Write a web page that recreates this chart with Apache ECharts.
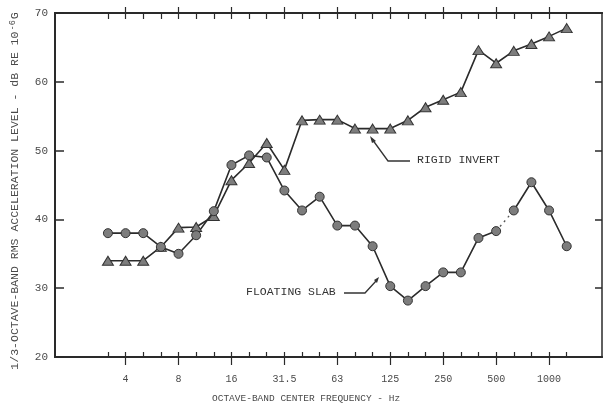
<!DOCTYPE html>
<html><head><meta charset="utf-8">
<script src="https://cdn.jsdelivr.net/npm/echarts@6/dist/echarts.min.js"></script>
<style>html,body{margin:0;padding:0;background:#fff}#c{width:604px;height:410px}</style>
</head><body><div id="c"></div>
<script>
// 1/3-octave band centre frequencies (Hz)
const bands = ['3.15','4','5','6.3','8','10','12.5','16','20','25','31.5','40','50','63','80','100','125','160','200','250','315','400','500','630','800','1000','1250'];
const padLeft = ['1.6','2','2.5'];
const padRight = ['1600','2000'];
const octaveLabels = ['4','8','16','31.5','63','125','250','500','1000'];
// dB re 1e-6 g
const floatingSlab = [38,38,38,36,35,37.7,41.2,47.9,49.3,49,44.2,41.3,43.3,39.1,39.1,36.1,30.3,28.2,30.3,32.3,32.3,37.3,38.3,41.3,45.4,41.3,36.1];
const rigidInvert  = [34,34,34,36,38.8,38.9,40.5,45.7,48.2,51.1,47.2,54.4,54.5,54.5,53.2,53.2,53.2,54.4,56.3,57.4,58.5,64.6,62.7,64.5,65.5,66.6,67.8];
const yMin = 20, yMax = 70, yStep = 10;
const dottedFrom = '500', dottedTo = '630';

const cats = padLeft.concat(bands, padRight);
const pad = v => padLeft.map(() => null).concat(v, padRight.map(() => null));
const iA = bands.indexOf(dottedFrom), iB = bands.indexOf(dottedTo);
const floatA = floatingSlab.map((v, i) => i <= iA ? v : null);
const floatB = floatingSlab.map((v, i) => i >= iB ? v : null);
const floatGap = floatingSlab.map((v, i) => (i === iA || i === iB) ? v : null);

const first = padLeft.length, last = padLeft.length + bands.length - 1;
const isBand = idx => idx >= first && idx <= last;
const isOct = idx => octaveLabels.indexOf(cats[idx]) >= 0;

const FONT = "'Liberation Mono','DejaVu Sans Mono',monospace";
const TXT = '#4a4a4a';
const AX = '#2a2a2a';

const baseX = {
  type: 'category', data: cats, boundaryGap: false, gridIndex: 0,
  axisLine: { show: true, lineStyle: { color: AX, width: 2 } },
  splitLine: { show: false }
};

const chart = echarts.init(document.getElementById('c'), null, { renderer: 'canvas' });
chart.setOption({
  animation: false,
  backgroundColor: '#fff',
  grid: { left: 51, right: 2, top: 13, bottom: 53 },
  xAxis: [
    Object.assign({}, baseX, { position: 'bottom',
      axisTick: { show: true, inside: true, length: 5, interval: (i) => isBand(i), lineStyle: { color: AX, width: 1.2 } },
      axisLabel: { show: false } }),
    Object.assign({}, baseX, { position: 'bottom',
      axisTick: { show: true, inside: false, length: 8, interval: (i) => isOct(i), lineStyle: { color: AX, width: 1.2 } },
      axisLabel: { show: true, interval: (i) => isOct(i), margin: 17, color: TXT, fontFamily: FONT, fontSize: 10 } }),
    Object.assign({}, baseX, { position: 'top',
      axisTick: { show: true, inside: true, length: 6, interval: (i) => isBand(i), lineStyle: { color: AX, width: 1.2 } },
      axisLabel: { show: false } }),
    Object.assign({}, baseX, { position: 'top',
      axisTick: { show: true, inside: false, length: 6, interval: (i) => isOct(i), lineStyle: { color: AX, width: 1.2 } },
      axisLabel: { show: false } })
  ],
  yAxis: [
    { type: 'value', position: 'left', min: yMin, max: yMax, interval: yStep,
      axisLine: { show: true, lineStyle: { color: AX, width: 2 } },
      axisTick: { show: true, inside: true, length: 9, lineStyle: { color: AX, width: 1.5 } },
      axisLabel: { show: true, margin: 7, color: TXT, fontFamily: FONT, fontSize: 11 },
      splitLine: { show: false },
      name: '{a|1/3-OCTAVE-BAND RMS ACCELERATION LEVEL - dB RE 10}{s|-6}{a|G}',
      nameLocation: 'middle', nameRotate: 90, nameGap: 33,
      nameTextStyle: { padding: [0, 12, 0, 0], rich: {
        a: { color: TXT, fontFamily: FONT, fontSize: 11.5, lineHeight: 14 },
        s: { color: TXT, fontFamily: FONT, fontSize: 8.5, verticalAlign: 'top', lineHeight: 14, padding: [0, 1, 6, 1] }
      } } },
    { type: 'value', position: 'right', min: yMin, max: yMax, interval: yStep,
      axisLine: { show: true, lineStyle: { color: AX, width: 1.5 } },
      axisTick: { show: true, inside: true, length: 7, lineStyle: { color: AX, width: 1.5 } },
      axisLabel: { show: false }, splitLine: { show: false } }
  ],
  series: [
    { name: 'RIGID INVERT', type: 'line', xAxisIndex: 0, yAxisIndex: 0, data: pad(rigidInvert),
      symbol: 'triangle', symbolSize: [11, 9],
      itemStyle: { color: '#7d7d7d', borderColor: '#333', borderWidth: 1 },
      lineStyle: { color: '#2b2b2b', width: 1.6 }, z: 3 },
    { name: 'FLOATING SLAB', type: 'line', xAxisIndex: 0, yAxisIndex: 0, data: pad(floatA),
      symbol: 'circle', symbolSize: 9,
      itemStyle: { color: '#7d7d7d', borderColor: '#333', borderWidth: 1 },
      lineStyle: { color: '#2b2b2b', width: 1.6 }, z: 3 },
    { name: 'FLOATING SLAB b', type: 'line', xAxisIndex: 0, yAxisIndex: 0, data: pad(floatB),
      symbol: 'circle', symbolSize: 9,
      itemStyle: { color: '#7d7d7d', borderColor: '#333', borderWidth: 1 },
      lineStyle: { color: '#2b2b2b', width: 1.6 }, z: 3 },
    { name: 'gap', type: 'line', xAxisIndex: 0, yAxisIndex: 0, data: pad(floatGap),
      symbol: 'none', lineStyle: { color: '#555', width: 1.3, type: [2, 4] }, z: 2 }
  ],
  graphic: [
    { type: 'text', left: 212, top: 393, style: { text: 'OCTAVE-BAND CENTER FREQUENCY - Hz', fill: TXT, font: "9.5px " + FONT } },
    { type: 'text', left: 417, top: 154, style: { text: 'RIGID INVERT', fill: '#333', font: "11.5px " + FONT } },
    { type: 'text', left: 246, top: 286, style: { text: 'FLOATING SLAB', fill: '#333', font: "11.5px " + FONT } },
    { type: 'polyline', shape: { points: [[372, 139], [388, 161], [410, 161]] }, style: { stroke: '#333', lineWidth: 1.3, fill: null } },
    { type: 'polygon', shape: { points: [[370, 136], [376, 141], [372, 143]] }, style: { fill: '#333' } },
    { type: 'polyline', shape: { points: [[344, 293], [365, 293], [376, 281]] }, style: { stroke: '#333', lineWidth: 1.3, fill: null } },
    { type: 'polygon', shape: { points: [[379, 277], [374, 280], [377, 283]] }, style: { fill: '#333' } }
  ]
});
</script></body></html>
